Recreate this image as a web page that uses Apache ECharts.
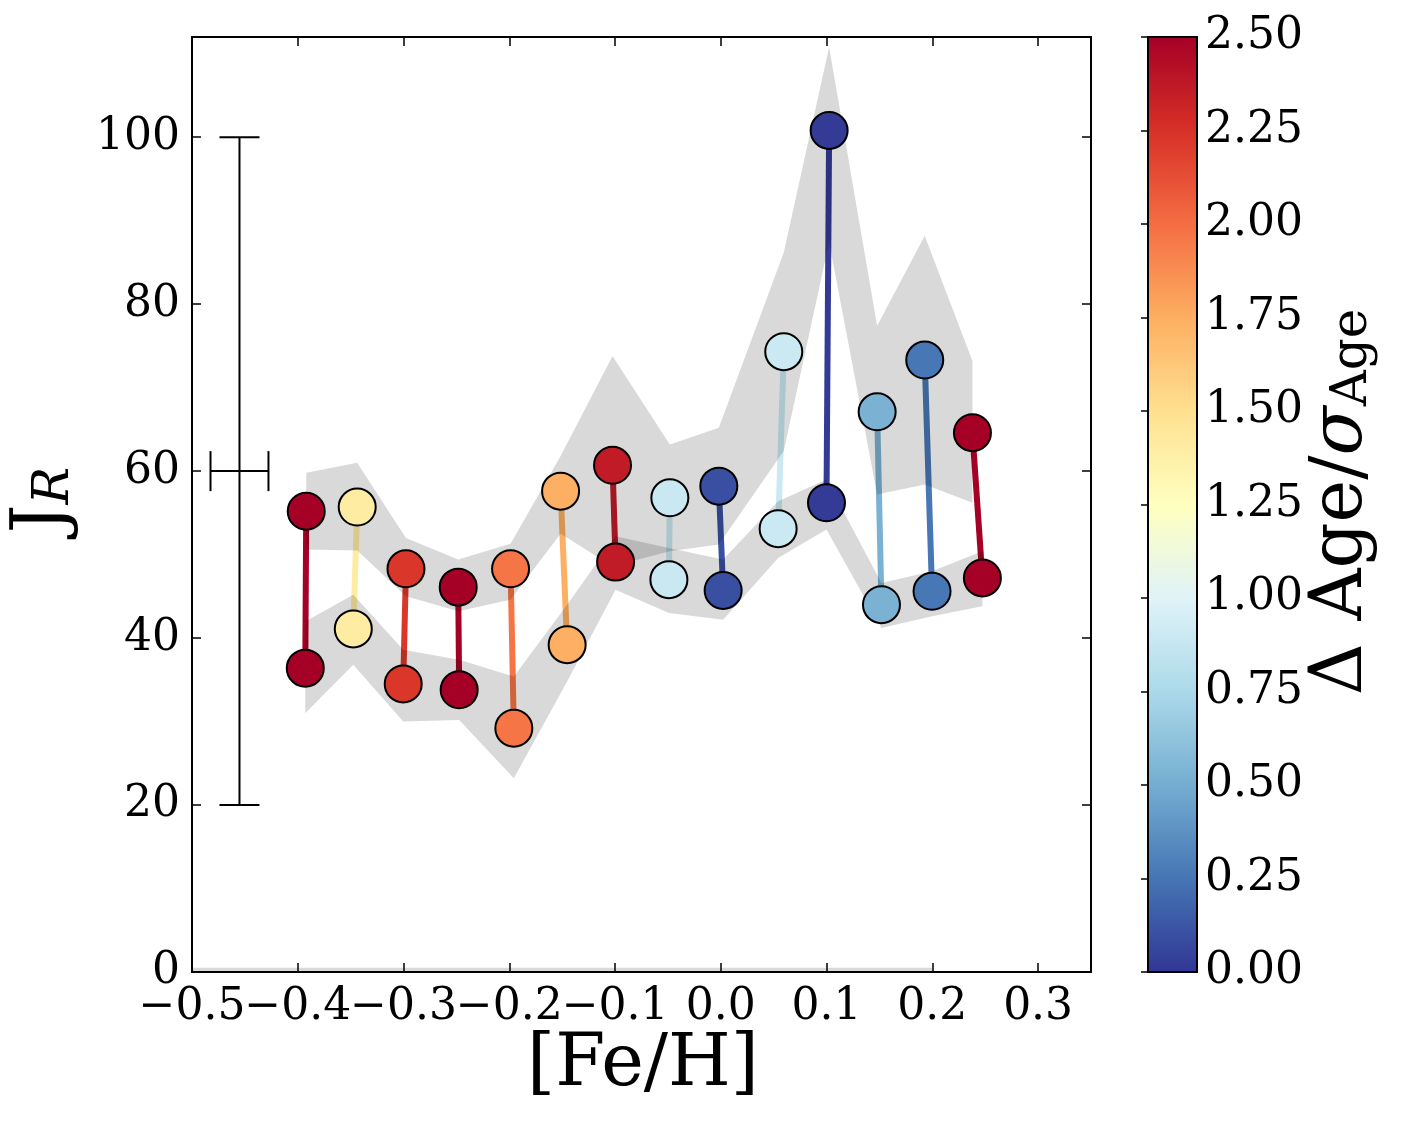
<!DOCTYPE html>
<html><head><meta charset="utf-8">
<script src="https://cdn.jsdelivr.net/npm/echarts@6/dist/echarts.min.js"></script>
<style>html,body{margin:0;padding:0;background:#fff}#c{width:1411px;height:1122px}</style>
</head><body><div id="c"></div>
<script>
// ---- data ----
const upperX = [-0.392, -0.3438, -0.2977, -0.2483, -0.1988, -0.1515, -0.1024, -0.0482, -0.0019, 0.0595, 0.1024, 0.1478, 0.1928, 0.2379];
const upperY = [55.2, 55.7, 48.3, 46.1, 48.3, 57.6, 60.7, 56.8, 58.2, 74.3, 100.8, 67.1, 73.3, 64.6];
const lowerX = [-0.3929, -0.3475, -0.3003, -0.2474, -0.1957, -0.1453, -0.0995, -0.0491, 0.0022, 0.0542, 0.0999, 0.1519, 0.1997, 0.2473];
const lowerY = [36.4, 41.1, 34.5, 33.8, 29.2, 39.2, 49.1, 47.0, 45.7, 53.1, 56.2, 44.0, 45.6, 47.2];
const ageRatio = [2.5, 1.4, 2.22, 2.5, 1.97, 1.74, 2.36, 0.89, 0.1, 0.9, 0.02, 0.53, 0.26, 2.5];
const upperBandTop    = [59.8, 61.0, 52.0, 49.4, 51.3, 61.8, 73.8, 63.2, 65.2, 86.2, 110.8, 77.4, 88.2, 73.2];
const upperBandBottom = [50.6, 50.5, 45.0, 43.2, 44.6, 52.5, 48.6, 50.4, 51.2, 62.4, 87.4, 57.2, 58.4, 56.2];
const lowerBandTop    = [42.0, 45.2, 38.6, 37.4, 35.4, 44.0, 52.2, 50.8, 49.4, 56.4, 59.0, 46.6, 48.0, 50.4];
const lowerBandBottom = [31.0, 36.8, 30.0, 30.2, 23.2, 34.8, 45.8, 43.0, 42.2, 49.6, 53.0, 41.2, 42.6, 43.8];
const zeroFillX = [-0.5, 0.2];
const zeroFillTop = [0.5, 0.5];
const zeroFillBottom = [0, 0];
const errBarX = [-0.4551];
const errBarY = [60];
const errBarXErr = [0.0274];
const errBarYLow = [20];
const errBarYHigh = [100];
const xRange = [-0.5, 0.35];
const yRange = [0, 112];
const cbarRange = [0, 2.5];

// ---- colormap (RdYlBu_r) ----
const cmapAnchors = ['#313695','#4575b4','#74add1','#abd9e9','#e0f3f8','#ffffbf','#fee090','#fdae61','#f46d43','#d73027','#a50026'];
function hex2rgb(h){return [parseInt(h.slice(1,3),16),parseInt(h.slice(3,5),16),parseInt(h.slice(5,7),16)];}
function cmap(v){
  let t = Math.max(0, Math.min(1, (v - cbarRange[0]) / (cbarRange[1] - cbarRange[0]))) * 10;
  const i = Math.min(9, Math.floor(t)); const f = t - i;
  const a = hex2rgb(cmapAnchors[i]), b = hex2rgb(cmapAnchors[i+1]);
  const c = a.map((x,k)=>Math.round(x + (b[k]-x)*f));
  return 'rgb(' + c.join(',') + ')';
}
const cbarStops = cmapAnchors.map((c,i)=>({offset: 1 - i/10, color: c}));

const FONT = 'DejaVu Serif';

function bandRender(xs, top, bot){
  return function(params, api){
    const pts = [];
    for (let i=0;i<xs.length;i++) pts.push(api.coord([xs[i], top[i]]));
    for (let i=xs.length-1;i>=0;i--) pts.push(api.coord([xs[i], bot[i]]));
    return {type:'polygon', shape:{points:pts}, style:{fill:'rgba(0,0,0,0.15)'}};
  };
}

const pairData = upperX.map((x,i)=>[x, upperY[i], lowerX[i], lowerY[i], ageRatio[i]]);
const pointData = [];
upperX.forEach((x,i)=>pointData.push([x, upperY[i], ageRatio[i]]));
lowerX.forEach((x,i)=>pointData.push([x, lowerY[i], ageRatio[i]]));
const errData = errBarX.map((x,i)=>[x, errBarY[i], errBarXErr[i], errBarYLow[i], errBarYHigh[i]]);

function fmtTenth(v){
  const r = Math.round(v*10);
  if (Math.abs(v*10 - r) > 1e-6) return '';
  return (r < 0 ? '\u2212' : '') + (Math.abs(r)/10).toFixed(1);
}
// main axis: all tenths except the axis minimum; the minimum is drawn by a second label-only axis
function fmtX(v){ return Math.abs(v - xRange[0]) < 1e-9 ? '' : fmtTenth(v); }
function fmtXMin(v){ return Math.abs(v - xRange[0]) < 1e-9 ? fmtTenth(v) : ''; }
function fmtY(v){ return (Math.abs(v % 20) < 1e-6) ? String(Math.round(v)) : ''; }

const blackLine = {show:true, onZero:false, lineStyle:{color:'#000', width:2}};
const innerTick = {show:true, inside:true, length:9, lineStyle:{color:'#000', width:1.5}};
const xLabel = {show:true, margin:14, color:'#000', fontSize:44, fontFamily:FONT};

const chart = echarts.init(document.getElementById('c'), null, {renderer:'canvas'});
chart.setOption({
  animation:false,
  backgroundColor:'#fff',
  grid:[
    {left:192, top:37, width:899, height:935, outerBoundsMode:'none', containLabel:false},
    {left:1148, top:37, width:49, height:935, outerBoundsMode:'none', containLabel:false, show:true,
      backgroundColor: new echarts.graphic.LinearGradient(0,0,0,1, cbarStops), borderColor:'#000', borderWidth:2}
  ],
  xAxis:[
    {gridIndex:0, type:'value', min:xRange[0], max:xRange[1], interval:0.1, position:'bottom',
      axisLine:blackLine, axisTick:innerTick, splitLine:{show:false},
      axisLabel:Object.assign({}, xLabel, {formatter:fmtX, showMaxLabel:false, showMinLabel:false})},
    {gridIndex:0, type:'value', min:xRange[0], max:xRange[1], interval:0.1, position:'top',
      axisLine:blackLine, axisTick:innerTick, splitLine:{show:false}, axisLabel:{show:false}},
    {gridIndex:1, type:'value', min:0, max:1, show:false},
    {gridIndex:0, type:'value', min:xRange[0], max:xRange[1], interval:0.1, position:'bottom', offset:0,
      axisLine:{show:false, onZero:false}, axisTick:{show:false}, splitLine:{show:false},
      axisLabel:Object.assign({}, xLabel, {formatter:fmtXMin, showMaxLabel:false, showMinLabel:true})}
  ],
  yAxis:[
    {gridIndex:0, type:'value', min:yRange[0], max:yRange[1], interval:20, position:'left',
      axisLine:blackLine, axisTick:innerTick, splitLine:{show:false},
      axisLabel:{show:true, margin:12, color:'#000', fontSize:44, fontFamily:FONT, formatter:fmtY,
        showMaxLabel:false, showMinLabel:true}},
    {gridIndex:0, type:'value', min:yRange[0], max:yRange[1], interval:20, position:'right',
      axisLine:blackLine, axisTick:innerTick, splitLine:{show:false}, axisLabel:{show:false}},
    {gridIndex:1, type:'value', min:cbarRange[0], max:cbarRange[1], interval:0.25, position:'right',
      axisLine:{show:false}, splitLine:{show:false},
      axisTick:{show:true, inside:true, length:7, lineStyle:{color:'#000', width:1.5}},
      axisLabel:{show:true, margin:8, color:'#000', fontSize:44, fontFamily:FONT, formatter:v=>v.toFixed(2),
        showMinLabel:true, showMaxLabel:true}}
  ],
  series:[
    {type:'custom', xAxisIndex:0, yAxisIndex:0, z:1, silent:true,
      data:pairData, encode:{x:[0,2], y:[1,3]},
      renderItem:function(params, api){
        const p1 = api.coord([api.value(0), api.value(1)]);
        const p2 = api.coord([api.value(2), api.value(3)]);
        return {type:'line', shape:{x1:p1[0], y1:p1[1], x2:p2[0], y2:p2[1]},
          style:{stroke:cmap(api.value(4)), lineWidth:6}};
      }},
    {type:'custom', xAxisIndex:0, yAxisIndex:0, z:2, silent:true,
      data:[[upperX[0], upperBandTop[0]]], renderItem:bandRender(upperX, upperBandTop, upperBandBottom)},
    {type:'custom', xAxisIndex:0, yAxisIndex:0, z:2, silent:true,
      data:[[lowerX[0], lowerBandTop[0]]], renderItem:bandRender(lowerX, lowerBandTop, lowerBandBottom)},
    {type:'custom', xAxisIndex:0, yAxisIndex:0, z:2, silent:true,
      data:[[zeroFillX[0], zeroFillTop[0]]], renderItem:bandRender(zeroFillX, zeroFillTop, zeroFillBottom)},
    {type:'scatter', xAxisIndex:0, yAxisIndex:0, z:3, silent:true, symbol:'circle', symbolSize:37,
      data:pointData,
      itemStyle:{color:p=>cmap(p.value[2]), borderColor:'#000', borderWidth:2, opacity:1}},
    {type:'custom', xAxisIndex:0, yAxisIndex:0, z:3, silent:true,
      data:errData,
      renderItem:function(params, api){
        const cx = api.value(0), cy = api.value(1), xe = api.value(2), ylo = api.value(3), yhi = api.value(4);
        const top = api.coord([cx, yhi]), bot = api.coord([cx, ylo]);
        const left = api.coord([cx - xe, cy]), right = api.coord([cx + xe, cy]);
        const cap = 20, st = {stroke:'#000', lineWidth:2};
        return {type:'group', children:[
          {type:'line', shape:{x1:top[0], y1:top[1], x2:bot[0], y2:bot[1]}, style:st},
          {type:'line', shape:{x1:top[0]-cap, y1:top[1], x2:top[0]+cap, y2:top[1]}, style:st},
          {type:'line', shape:{x1:bot[0]-cap, y1:bot[1], x2:bot[0]+cap, y2:bot[1]}, style:st},
          {type:'line', shape:{x1:left[0], y1:left[1], x2:right[0], y2:right[1]}, style:st},
          {type:'line', shape:{x1:left[0], y1:left[1]-cap, x2:left[0], y2:left[1]+cap}, style:st},
          {type:'line', shape:{x1:right[0], y1:right[1]-cap, x2:right[0], y2:right[1]+cap}, style:st}
        ]};
      }}
  ],
  graphic:[
    {type:'text', x:643, y:1066, silent:true,
      style:{text:'[Fe/H]', font:'72px "DejaVu Serif"', fill:'#000', align:'center', verticalAlign:'middle'}},
    {type:'text', x:44, y:500, rotation:Math.PI/2, silent:true,
      style:{text:'{m|J}{s|R}', align:'center', verticalAlign:'middle', fill:'#000',
        rich:{m:{fontSize:72, fontFamily:FONT, lineHeight:72, verticalAlign:'top', fill:'#000'},
              s:{fontSize:50, fontFamily:FONT, fontStyle:'italic', lineHeight:33, verticalAlign:'bottom', fill:'#000'}}}},
    {type:'text', x:1342, y:502, rotation:Math.PI/2, silent:true,
      style:{text:'{m|\u0394 Age/}{i|\u03c3}{s|Age}', align:'center', verticalAlign:'middle', fill:'#000',
        rich:{m:{fontSize:72, fontFamily:FONT, lineHeight:72, verticalAlign:'top', fill:'#000'},
              i:{fontSize:72, fontFamily:FONT, fontStyle:'italic', lineHeight:72, verticalAlign:'top', fill:'#000'},
              s:{fontSize:50, fontFamily:FONT, lineHeight:33, verticalAlign:'bottom', fill:'#000'}}}}
  ]
});
</script></body></html>
